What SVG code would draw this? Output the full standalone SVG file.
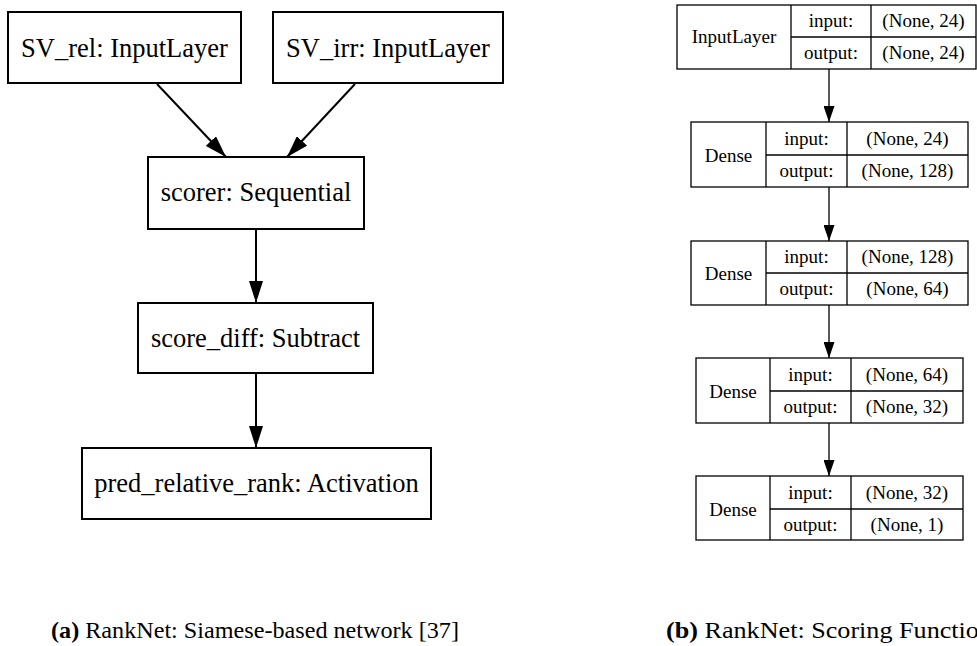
<svg xmlns="http://www.w3.org/2000/svg" width="977" height="646" viewBox="0 0 977 646">
<style>
  .bg{fill:#fff}
  .big rect{fill:#fff;stroke:#000;stroke-width:2}
  .small rect,.small line{fill:#fff;stroke:#000;stroke-width:1.3}
  .t1{font-family:"Liberation Serif","Times New Roman",serif;font-size:26.5px;fill:#000;text-anchor:middle}
  .t2{font-family:"Liberation Serif","Times New Roman",serif;font-size:19px;fill:#000;text-anchor:middle}
  .cap{font-family:"Liberation Serif","Times New Roman",serif;font-size:24px;fill:#000}
  .e1{stroke:#000;stroke-width:2;fill:none;marker-end:url(#ah1)}
  .e2{stroke:#000;stroke-width:1.3;fill:none;marker-end:url(#ah2)}
</style>
<defs>
  <marker id="ah1" markerUnits="userSpaceOnUse" markerWidth="22" markerHeight="14" refX="22" refY="7" orient="auto">
    <path d="M0,0 L22,7 L0,14 Z" fill="#000"/>
  </marker>
  <marker id="ah2" markerUnits="userSpaceOnUse" markerWidth="16" markerHeight="11" refX="16" refY="5.5" orient="auto">
    <path d="M0,0 L16,5.5 L0,11 Z" fill="#000"/>
  </marker>
</defs>
<rect class="bg" x="0" y="0" width="977" height="646"/>

<g id="connectors">
  <line class="e1" x1="157" y1="84" x2="226" y2="157"/>
  <line class="e1" x1="355" y1="84" x2="287" y2="157"/>
  <line class="e1" x1="256" y1="229" x2="256" y2="303"/>
  <line class="e1" x1="256" y1="373" x2="256" y2="448"/>
  <line class="e2" x1="829" y1="69" x2="829" y2="122"/>
  <line class="e2" x1="829" y1="187" x2="829" y2="241"/>
  <line class="e2" x1="829" y1="305" x2="829" y2="358"/>
  <line class="e2" x1="829" y1="423" x2="829" y2="476"/>
</g>

<g id="sv_rel" class="big">
  <rect x="8" y="12" width="233" height="71"/>
  <text class="t1" x="124.5" y="56.5">SV_rel: InputLayer</text>
</g>
<g id="sv_irr" class="big">
  <rect x="273" y="12" width="230" height="71"/>
  <text class="t1" x="388" y="56.5">SV_irr: InputLayer</text>
</g>
<g id="scorer" class="big">
  <rect x="148" y="157" width="216" height="72"/>
  <text class="t1" x="256" y="201">scorer: Sequential</text>
</g>
<g id="score_diff" class="big">
  <rect x="138" y="303" width="235" height="70"/>
  <text class="t1" x="255.5" y="347">score_diff: Subtract</text>
</g>
<g id="pred_relative_rank" class="big">
  <rect x="82" y="448" width="349" height="71"/>
  <text class="t1" x="256.5" y="492">pred_relative_rank: Activation</text>
</g>

<g id="inputlayer" class="small">
  <rect x="677" y="5" width="299" height="64"/>
  <line x1="791" y1="5" x2="791" y2="69"/>
  <line x1="871" y1="5" x2="871" y2="69"/>
  <line x1="791" y1="37" x2="976" y2="37"/>
  <text class="t2" x="734" y="43">InputLayer</text>
  <text class="t2" x="831" y="27">input:</text>
  <text class="t2" x="831" y="59">output:</text>
  <text class="t2" x="923.5" y="27">(None, 24)</text>
  <text class="t2" x="923.5" y="59">(None, 24)</text>
</g>
<g id="dense1" class="small">
  <rect x="691" y="122" width="277" height="65"/>
  <line x1="766" y1="122" x2="766" y2="187"/>
  <line x1="847" y1="122" x2="847" y2="187"/>
  <line x1="766" y1="155" x2="968" y2="155"/>
  <text class="t2" x="728.5" y="162">Dense</text>
  <text class="t2" x="806.5" y="145">input:</text>
  <text class="t2" x="806.5" y="177">output:</text>
  <text class="t2" x="907.5" y="145">(None, 24)</text>
  <text class="t2" x="907.5" y="177">(None, 128)</text>
</g>
<g id="dense2" class="small">
  <rect x="691" y="241" width="277" height="64"/>
  <line x1="766" y1="241" x2="766" y2="305"/>
  <line x1="847" y1="241" x2="847" y2="305"/>
  <line x1="766" y1="273" x2="968" y2="273"/>
  <text class="t2" x="728.5" y="280">Dense</text>
  <text class="t2" x="806.5" y="263">input:</text>
  <text class="t2" x="806.5" y="295">output:</text>
  <text class="t2" x="907.5" y="263">(None, 128)</text>
  <text class="t2" x="907.5" y="295">(None, 64)</text>
</g>
<g id="dense3" class="small">
  <rect x="696" y="358" width="267" height="65"/>
  <line x1="770" y1="358" x2="770" y2="423"/>
  <line x1="851" y1="358" x2="851" y2="423"/>
  <line x1="770" y1="391" x2="963" y2="391"/>
  <text class="t2" x="733" y="398">Dense</text>
  <text class="t2" x="810.5" y="381">input:</text>
  <text class="t2" x="810.5" y="413">output:</text>
  <text class="t2" x="907" y="381">(None, 64)</text>
  <text class="t2" x="907" y="413">(None, 32)</text>
</g>
<g id="dense4" class="small">
  <rect x="696" y="476" width="267" height="64"/>
  <line x1="770" y1="476" x2="770" y2="540"/>
  <line x1="851" y1="476" x2="851" y2="540"/>
  <line x1="770" y1="509" x2="963" y2="509"/>
  <text class="t2" x="733" y="516">Dense</text>
  <text class="t2" x="810.5" y="499">input:</text>
  <text class="t2" x="810.5" y="531">output:</text>
  <text class="t2" x="907" y="499">(None, 32)</text>
  <text class="t2" x="907" y="531">(None, 1)</text>
</g>

<g id="captions">
  <text class="cap" x="51" y="638" textLength="408" lengthAdjust="spacingAndGlyphs"><tspan font-weight="bold">(a)</tspan> RankNet: Siamese-based network [37]</text>
  <text class="cap" x="666" y="638" textLength="326" lengthAdjust="spacingAndGlyphs"><tspan font-weight="bold">(b)</tspan> RankNet: Scoring Function</text>
</g>
</svg>
